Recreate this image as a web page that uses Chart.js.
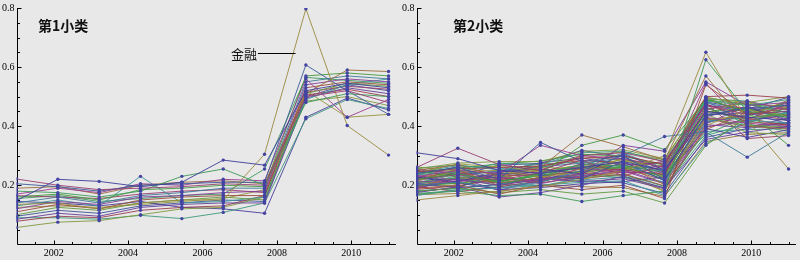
<!DOCTYPE html>
<html>
<head>
<meta charset="utf-8">
<script src="https://cdn.jsdelivr.net/npm/chart.js@4"></script>
<style>
  html, body { margin: 0; padding: 0; background: #e8e8e8; }
  #wrap { position: relative; width: 800px; height: 260px; overflow: hidden; }
  canvas { position: absolute; top: 0; }
  #c1 { left: 0; }
  #c2 { left: 400px; }
</style>
</head>
<body>
<div id="wrap">
  <canvas id="c1" width="400" height="260"></canvas>
  <canvas id="c2" width="400" height="260"></canvas>
</div>
<script>
// x positions of the 10 observations (2001..2011 spread over 10 points)
const years = [2001, 2002.111, 2003.222, 2004.333, 2005.444, 2006.556, 2007.667, 2008.778, 2009.889, 2011];

const xTickValues = [2002, 2004, 2006, 2008, 2010];
const xTickLabels = ["2002", "2004", "2006", "2008", "2010"];
const yTickValues = [0.2, 0.4, 0.6, 0.8];
const yTickLabels = ["0.2", "0.4", "0.6", "0.8"];

const titles = ["第1小类", "第2小类"];
const calloutText = "金融";

// 第1小类 — third series (olive) is 金融
const group1 = [
  [0.148, 0.220, 0.213, 0.195, 0.210, 0.285, 0.268, 0.520, 0.545, 0.530],
  [0.221, 0.200, 0.185, 0.190, 0.195, 0.205, 0.200, 0.500, 0.520, 0.480],
  [0.135, 0.140, 0.120, 0.140, 0.150, 0.150, 0.305, 0.797, 0.402, 0.302],
  [0.180, 0.175, 0.160, 0.180, 0.230, 0.255, 0.200, 0.480, 0.510, 0.500],
  [0.205, 0.195, 0.180, 0.200, 0.205, 0.210, 0.210, 0.607, 0.520, 0.440],
  [0.170, 0.190, 0.175, 0.205, 0.200, 0.220, 0.215, 0.560, 0.430, 0.490],
  [0.190, 0.195, 0.170, 0.200, 0.210, 0.215, 0.205, 0.510, 0.590, 0.585],
  [0.160, 0.170, 0.150, 0.185, 0.190, 0.200, 0.195, 0.570, 0.580, 0.570],
  [0.140, 0.160, 0.140, 0.165, 0.175, 0.190, 0.190, 0.550, 0.570, 0.560],
  [0.120, 0.145, 0.135, 0.160, 0.165, 0.175, 0.180, 0.540, 0.560, 0.550],
  [0.110, 0.135, 0.120, 0.150, 0.160, 0.165, 0.165, 0.530, 0.550, 0.540],
  [0.100, 0.125, 0.115, 0.140, 0.150, 0.160, 0.150, 0.510, 0.545, 0.535],
  [0.130, 0.150, 0.130, 0.230, 0.140, 0.145, 0.160, 0.490, 0.540, 0.560],
  [0.085, 0.105, 0.095, 0.125, 0.135, 0.140, 0.140, 0.495, 0.530, 0.510],
  [0.078, 0.095, 0.090, 0.115, 0.125, 0.130, 0.165, 0.505, 0.525, 0.500],
  [0.057, 0.075, 0.080, 0.100, 0.120, 0.125, 0.160, 0.485, 0.500, 0.470],
  [0.090, 0.090, 0.085, 0.098, 0.087, 0.108, 0.140, 0.425, 0.490, 0.460],
  [0.145, 0.140, 0.130, 0.145, 0.125, 0.120, 0.105, 0.430, 0.495, 0.455],
  [0.165, 0.160, 0.155, 0.170, 0.180, 0.185, 0.175, 0.515, 0.535, 0.525],
  [0.125, 0.130, 0.125, 0.135, 0.145, 0.155, 0.185, 0.520, 0.430, 0.440],
  [0.155, 0.165, 0.145, 0.155, 0.165, 0.170, 0.255, 0.565, 0.555, 0.545],
  [0.095, 0.115, 0.105, 0.130, 0.140, 0.150, 0.145, 0.500, 0.540, 0.520]
];
const calloutSeries = 2;

// 第2小类
const group2 = [
  [0.310, 0.290, 0.250, 0.240, 0.260, 0.280, 0.250, 0.450, 0.430, 0.420],
  [0.260, 0.325, 0.270, 0.250, 0.300, 0.310, 0.280, 0.470, 0.440, 0.450],
  [0.150, 0.165, 0.180, 0.195, 0.220, 0.250, 0.300, 0.650, 0.420, 0.255],
  [0.170, 0.180, 0.165, 0.170, 0.145, 0.165, 0.180, 0.625, 0.450, 0.430],
  [0.240, 0.260, 0.220, 0.345, 0.280, 0.300, 0.220, 0.440, 0.460, 0.470],
  [0.230, 0.250, 0.240, 0.335, 0.300, 0.290, 0.260, 0.430, 0.410, 0.400],
  [0.250, 0.270, 0.230, 0.260, 0.370, 0.330, 0.285, 0.570, 0.400, 0.390],
  [0.220, 0.240, 0.210, 0.240, 0.335, 0.370, 0.320, 0.490, 0.450, 0.335],
  [0.200, 0.210, 0.190, 0.210, 0.250, 0.300, 0.365, 0.380, 0.295, 0.380],
  [0.210, 0.220, 0.200, 0.220, 0.240, 0.335, 0.315, 0.550, 0.470, 0.480],
  [0.190, 0.200, 0.170, 0.200, 0.185, 0.200, 0.155, 0.540, 0.440, 0.460],
  [0.180, 0.190, 0.175, 0.185, 0.170, 0.180, 0.140, 0.335, 0.430, 0.440],
  [0.165, 0.185, 0.190, 0.200, 0.210, 0.215, 0.165, 0.340, 0.420, 0.410],
  [0.175, 0.195, 0.160, 0.175, 0.200, 0.230, 0.190, 0.355, 0.380, 0.400],
  [0.245, 0.255, 0.260, 0.265, 0.290, 0.300, 0.270, 0.500, 0.505, 0.495],
  [0.255, 0.275, 0.280, 0.280, 0.315, 0.320, 0.290, 0.495, 0.480, 0.500],
  [0.235, 0.245, 0.275, 0.270, 0.310, 0.315, 0.280, 0.485, 0.470, 0.490],
  [0.228, 0.212, 0.245, 0.255, 0.238, 0.305, 0.252, 0.432, 0.465, 0.418],
  [0.222, 0.235, 0.218, 0.242, 0.285, 0.232, 0.265, 0.475, 0.422, 0.475],
  [0.215, 0.248, 0.250, 0.228, 0.245, 0.290, 0.225, 0.402, 0.455, 0.432],
  [0.210, 0.225, 0.198, 0.240, 0.270, 0.265, 0.255, 0.465, 0.408, 0.465],
  [0.205, 0.192, 0.240, 0.235, 0.222, 0.280, 0.215, 0.438, 0.445, 0.408],
  [0.200, 0.215, 0.228, 0.212, 0.260, 0.242, 0.245, 0.455, 0.485, 0.455],
  [0.195, 0.228, 0.208, 0.225, 0.255, 0.270, 0.202, 0.422, 0.435, 0.488],
  [0.248, 0.228, 0.215, 0.232, 0.262, 0.258, 0.232, 0.448, 0.462, 0.428],
  [0.238, 0.262, 0.205, 0.218, 0.248, 0.272, 0.218, 0.412, 0.438, 0.452],
  [0.232, 0.218, 0.228, 0.205, 0.232, 0.248, 0.205, 0.398, 0.418, 0.438],
  [0.218, 0.252, 0.198, 0.228, 0.222, 0.238, 0.198, 0.388, 0.448, 0.418],
  [0.212, 0.205, 0.232, 0.212, 0.242, 0.262, 0.228, 0.428, 0.402, 0.398],
  [0.202, 0.232, 0.218, 0.198, 0.218, 0.228, 0.212, 0.418, 0.428, 0.445],
  [0.192, 0.215, 0.208, 0.222, 0.212, 0.222, 0.188, 0.405, 0.395, 0.428],
  [0.186, 0.198, 0.222, 0.208, 0.228, 0.245, 0.238, 0.462, 0.415, 0.405],
  [0.262, 0.248, 0.238, 0.262, 0.252, 0.282, 0.262, 0.442, 0.378, 0.372],
  [0.258, 0.268, 0.252, 0.272, 0.278, 0.262, 0.248, 0.492, 0.485, 0.442],
  [0.226, 0.208, 0.185, 0.192, 0.205, 0.212, 0.228, 0.392, 0.362, 0.388],
  [0.196, 0.178, 0.195, 0.215, 0.238, 0.255, 0.282, 0.478, 0.358, 0.368],
  [0.242, 0.272, 0.262, 0.248, 0.268, 0.242, 0.178, 0.458, 0.478, 0.462],
  [0.208, 0.238, 0.212, 0.238, 0.258, 0.268, 0.242, 0.372, 0.432, 0.485],
  [0.178, 0.192, 0.202, 0.225, 0.215, 0.208, 0.172, 0.362, 0.392, 0.412],
  [0.252, 0.242, 0.225, 0.218, 0.272, 0.252, 0.235, 0.545, 0.398, 0.395],
  [0.168, 0.172, 0.178, 0.202, 0.195, 0.192, 0.162, 0.348, 0.372, 0.378],
  [0.236, 0.258, 0.272, 0.282, 0.305, 0.298, 0.268, 0.488, 0.475, 0.445],
  [0.218, 0.238, 0.248, 0.262, 0.275, 0.292, 0.238, 0.478, 0.452, 0.472],
  [0.204, 0.222, 0.236, 0.244, 0.262, 0.276, 0.248, 0.468, 0.462, 0.458],
  [0.226, 0.246, 0.222, 0.252, 0.296, 0.286, 0.272, 0.496, 0.442, 0.482],
  [0.198, 0.206, 0.214, 0.232, 0.248, 0.262, 0.222, 0.436, 0.458, 0.436],
  [0.244, 0.266, 0.258, 0.238, 0.266, 0.308, 0.258, 0.486, 0.412, 0.448],
  [0.188, 0.226, 0.182, 0.218, 0.232, 0.252, 0.208, 0.408, 0.468, 0.422],
  [0.234, 0.202, 0.242, 0.266, 0.284, 0.276, 0.232, 0.452, 0.426, 0.402],
  [0.216, 0.254, 0.266, 0.258, 0.302, 0.312, 0.286, 0.498, 0.472, 0.468],
  [0.182, 0.188, 0.204, 0.196, 0.226, 0.236, 0.196, 0.382, 0.388, 0.392],
  [0.256, 0.236, 0.246, 0.276, 0.292, 0.268, 0.276, 0.472, 0.448, 0.478],
  [0.224, 0.264, 0.232, 0.234, 0.246, 0.256, 0.218, 0.426, 0.398, 0.412],
  [0.206, 0.196, 0.226, 0.248, 0.268, 0.286, 0.262, 0.444, 0.482, 0.432],
  [0.172, 0.182, 0.194, 0.214, 0.236, 0.226, 0.192, 0.368, 0.408, 0.382],
  [0.246, 0.234, 0.268, 0.274, 0.318, 0.296, 0.244, 0.482, 0.458, 0.498],
  [0.214, 0.244, 0.205, 0.226, 0.274, 0.248, 0.268, 0.414, 0.438, 0.468],
  [0.194, 0.212, 0.236, 0.252, 0.242, 0.232, 0.182, 0.396, 0.422, 0.442]
];

// Mathematica-style default line colours: Hue[0.67 + k*0.236068, 0.6, 0.6]
function hsv(h, s, v) {
  const i = Math.floor(h * 6), f = h * 6 - i;
  const p = v * (1 - s), q = v * (1 - f * s), t = v * (1 - (1 - f) * s);
  let r, g, b;
  switch (i % 6) {
    case 0: r = v; g = t; b = p; break;
    case 1: r = q; g = v; b = p; break;
    case 2: r = p; g = v; b = t; break;
    case 3: r = p; g = q; b = v; break;
    case 4: r = t; g = p; b = v; break;
    default: r = v; g = p; b = q;
  }
  return "rgba(" + Math.round(r * 255) + "," + Math.round(g * 255) + "," + Math.round(b * 255) + ",0.9)";
}
const lineColor = k => hsv((0.67 + k * 0.236068) % 1, 0.6, 0.6);

// axes drawn Mathematica-style: ticks pointing inward, minor ticks every 0.5 yr / 0.05
const mmaAxes = {
  id: "mmaAxes",
  beforeDatasetsDraw(chart) {
    const { ctx, scales: { x, y } } = chart;
    const ax = Math.round(x.getPixelForValue(2001)) + 0.5;
    const ay = Math.round(y.getPixelForValue(0)) + 0.5;
    ctx.save();
    ctx.strokeStyle = "#000";
    ctx.lineWidth = 1;
    ctx.beginPath();
    ctx.moveTo(ax, ay); ctx.lineTo(x.right, ay);
    ctx.moveTo(ax, ay); ctx.lineTo(ax, y.top);
    for (let yr = 2001.5; yr <= 2011.01; yr += 0.5) {
      const px = Math.round(x.getPixelForValue(yr)) + 0.5;
      const len = (yr % 2 === 0) ? 4 : 2.5;
      ctx.moveTo(px, ay); ctx.lineTo(px, ay - len);
    }
    for (let k = 1; k <= 16; k++) {
      const py = Math.round(y.getPixelForValue(k * 0.05)) + 0.5;
      const len = (k % 4 === 0) ? 4 : 2.5;
      ctx.moveTo(ax, py); ctx.lineTo(ax + len, py);
    }
    ctx.stroke();
    ctx.restore();
  },
  afterDraw(chart, args, opts) {
    const { ctx, scales: { x, y } } = chart;
    ctx.save();
    ctx.fillStyle = "#111";
    ctx.font = 'bold 14px "Noto Sans CJK SC"';
    ctx.textAlign = "left";
    ctx.textBaseline = "middle";
    ctx.fillText(opts.title, x.getPixelForValue(opts.titleAt[0]), y.getPixelForValue(opts.titleAt[1]));
    if (opts.callout) {
      const c = opts.callout;
      const x0 = x.getPixelForValue(c.from), x1 = x.getPixelForValue(c.to);
      const py = Math.round(y.getPixelForValue(c.y)) + 0.5;
      ctx.strokeStyle = "#000";
      ctx.lineWidth = 1;
      ctx.beginPath();
      ctx.moveTo(x0, py); ctx.lineTo(x1, py);
      ctx.stroke();
      ctx.font = '13px "Noto Sans CJK SC"';
      ctx.textAlign = "right";
      ctx.fillText(c.text, x0 - 1, py + 1);
    }
    ctx.restore();
  }
};

function makeChart(id, series, title, titleAt, callout) {
  const datasets = [];
  series.forEach((vals, k) => {
    datasets.push({
      type: "line",
      data: vals.map((v, i) => ({ x: years[i], y: v })),
      borderColor: lineColor(k),
      borderWidth: 1,
      pointRadius: 0,
      tension: 0,
      order: 1
    });
  });
  series.forEach(vals => {
    datasets.push({
      type: "scatter",
      data: vals.map((v, i) => ({ x: years[i], y: v })),
      pointRadius: 1.7,
      pointBorderWidth: 0,
      pointBackgroundColor: "#4343a3",
      order: 0
    });
  });

  const tickFont = { family: '"Liberation Serif", "DejaVu Serif", serif', size: 10 };
  return new Chart(document.getElementById(id), {
    type: "line",
    data: { datasets: datasets },
    options: {
      responsive: false,
      animation: false,
      devicePixelRatio: 1,
      layout: { padding: { top: 6, right: 1, left: 0, bottom: 0 } },
      plugins: {
        legend: { display: false },
        tooltip: { enabled: false },
        mmaAxes: { title: title, titleAt: titleAt, callout: callout }
      },
      scales: {
        x: {
          type: "linear", min: 2001, max: 2011.2,
          grid: { display: false, drawTicks: false }, border: { display: false },
          afterBuildTicks: s => { s.ticks = xTickValues.map(v => ({ value: v })); },
          afterFit: s => { s.height = 15.7; },
          ticks: {
            color: "#000", padding: 3, maxRotation: 0, autoSkip: false,
            font: tickFont,
            callback: (v, i) => xTickLabels[i]
          }
        },
        y: {
          min: 0, max: 0.8,
          grid: { display: false, drawTicks: false }, border: { display: false },
          afterBuildTicks: s => { s.ticks = yTickValues.map(v => ({ value: v })); },
          afterFit: s => { s.width = 16.5; },
          ticks: {
            color: "#000", padding: 2,
            font: tickFont,
            callback: (v, i) => yTickLabels[i]
          }
        }
      }
    },
    plugins: [mmaAxes]
  });
}

makeChart("c1", group1, titles[0], [2001.58, 0.741],
  { text: calloutText, from: 2007.49, to: 2008.5, y: 0.649 });
makeChart("c2", group2, titles[1], [2001.98, 0.741], null);
</script>
</body>
</html>
